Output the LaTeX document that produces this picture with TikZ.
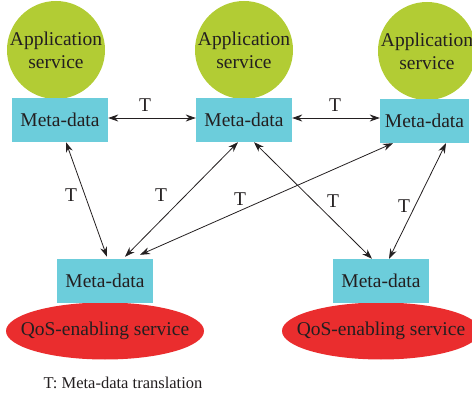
\documentclass[tikz,border=0pt]{standalone}
\usepackage{fontspec}
\setmainfont{Liberation Serif}
\usetikzlibrary{arrows.meta,shapes.geometric}
\definecolor{appgreen}{RGB}{178,204,52}
\definecolor{metacyan}{RGB}{108,205,219}
\definecolor{qosred}{RGB}{234,45,46}
\definecolor{ink}{RGB}{35,31,32}
\tikzset{
  txt/.style={font=\fontsize{19.5}{23}\selectfont, text=ink},
  appsvc/.style={circle, fill=appgreen, minimum size=98pt, inner sep=0pt},
  metabox/.style={txt, rectangle, fill=metacyan, minimum width=96pt, minimum height=44pt, inner sep=0pt},
  qossvc/.style={ellipse, fill=qosred, minimum width=198pt, minimum height=57pt, inner sep=0pt},
  svctext/.style={txt, inner sep=0pt, align=center},
  tlabel/.style={txt, inner sep=0pt},
  xlate/.style={draw=ink, line width=0.8pt,
    {Stealth[length=10pt,width=7pt]}-{Stealth[length=10pt,width=7pt]}}
}
\begin{document}
\begin{tikzpicture}[x=1pt,y=-1pt]
\useasboundingbox (0,0) rectangle (472,396);
\clip (0,0) rectangle (472,396);

% application services
\node[appsvc] (a1) at (56,50) {};
\node[appsvc] (a2) at (244,50) {};
\node[appsvc] (a3) at (427,51) {};
\node[svctext] (a1t) at (a1) {Application\\service};
\node[svctext] (a2t) at (a2) {Application\\service};
\node[svctext] (a3t) at (a3) {Application\\service};

% QoS-enabling services
\node[qossvc] (q1) at (105,331) {};
\node[qossvc] (q2) at (381,331) {};
\node[svctext] (q1t) at (q1) {QoS-enabling service};
\node[svctext] (q2t) at (q2) {QoS-enabling service};

% meta-data boxes
\node[metabox] (m1) at (60,120) {Meta-data};
\node[metabox] (m2) at (244,120) {Meta-data};
\node[metabox, minimum width=89pt] (m3) at (424.5,121) {Meta-data};
\node[metabox] (b1) at (105,281) {Meta-data};
\node[metabox] (b2) at (381,281) {Meta-data};

% translations between meta-data
\draw[xlate] ([yshift=2pt]m1.east) -- ([yshift=2pt]m2.west);
\draw[xlate] ([yshift=2pt]m2.east) -- ([yshift=3pt]m3.west);
\draw[xlate] ([xshift=6pt]m1.south) -- ([xshift=2pt,yshift=2pt]b1.north);
\draw[xlate] ([xshift=-6pt]m2.south) -- ([xshift=20pt,yshift=2pt]b1.north);
\draw[xlate] ([xshift=-31.5pt]m3.south) -- ([xshift=35pt,yshift=4pt]b1.north);
\draw[xlate] ([xshift=10pt]m2.south) -- ([xshift=-9pt]b2.north);
\draw[xlate] ([xshift=21.5pt]m3.south) -- ([xshift=8pt]b2.north);

% labels
\node[tlabel] (t1) at (145,105) {T};
\node[tlabel] (t2) at (335,105) {T};
\node[tlabel] (t3) at (71,195) {T};
\node[tlabel] (t4) at (161,195) {T};
\node[tlabel] (t5) at (240,199) {T};
\node[tlabel] (t6) at (333,201) {T};
\node[tlabel] (t7) at (404,206) {T};

\node[txt, font=\fontsize{16.5}{20}\selectfont] (legend) at (123,383) {T: Meta-data translation};
\end{tikzpicture}
\end{document}
